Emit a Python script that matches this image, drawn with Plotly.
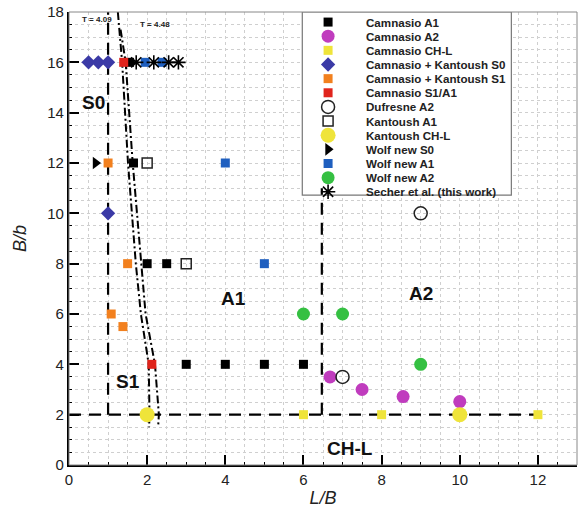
import plotly.graph_objects as go

# ---------------- data ----------------
camnasio_a1_x = [1.55, 1.65, 2.0, 2.5, 3.0, 4.0, 5.0, 6.0]
camnasio_a1_y = [16, 12, 8, 8, 4, 4, 4, 4]
camnasio_a2_x = [6.68, 7.5, 8.55, 10.0]
camnasio_a2_y = [3.5, 3.0, 2.72, 2.52]
camnasio_chl_x = [6.0, 8.0, 12.0]
camnasio_chl_y = [2, 2, 2]
ck_s0_x = [0.5, 0.75, 1.0, 1.0]
ck_s0_y = [16, 16, 16, 10]
ck_s1_x = [1.0, 1.5, 1.08, 1.38]
ck_s1_y = [12, 8, 6, 5.5]
camnasio_s1a1_x = [1.4, 2.12]
camnasio_s1a1_y = [16, 4]
dufresne_a2_x = [9.0, 7.0]
dufresne_a2_y = [10, 3.5]
kantoush_a1_x = [2.0, 3.0]
kantoush_a1_y = [12, 8]
kantoush_chl_x = [2.0, 10.0]
kantoush_chl_y = [2, 2]
wolf_s0_x = [0.68]
wolf_s0_y = [12]
wolf_a1_x = [1.95, 2.38, 4.0, 5.0]
wolf_a1_y = [16, 16, 12, 8]
wolf_a2_x = [6.0, 7.0, 9.0]
wolf_a2_y = [6, 6, 4]
secher_x = [1.72, 2.17, 2.55, 2.8]
secher_y = [16, 16, 16, 16]

# boundary lines
t409_x = [1.25, 1.36, 1.51, 1.71, 1.84, 2.04, 2.06, 2.05]
t409_y = [18, 16, 12, 8, 6, 4, 2, 1.5]
t448_x = [1.32, 1.45, 1.63, 1.84, 1.96, 2.2, 2.3, 2.28]
t448_y = [17.3, 16, 12, 8, 6, 4, 2, 1.5]
s0_line_x = [1.0, 1.0]
s0_line_y = [2, 18]
chl_line_x = [0.0, 12.2]
chl_line_y = [2, 2]
a2_line_x = [6.47, 6.47]
a2_line_y = [2, 11.0]

region_labels = ["S0", "A1", "A2", "S1", "CH-L"]
region_x = [0.62, 4.2, 9.0, 1.52, 7.2]
region_y = [14.4, 6.6, 6.8, 3.3, 0.65]

x_ticks = [0, 2, 4, 6, 8, 10, 12]
y_ticks = [0, 2, 4, 6, 8, 10, 12, 14, 16, 18]

# series: name, x, y, symbol, color, size
series = [
    ("Camnasio A1", camnasio_a1_x, camnasio_a1_y, "square", "#000000", 9),
    ("Camnasio A2", camnasio_a2_x, camnasio_a2_y, "circle", "#c03cbe", 13),
    ("Camnasio CH-L", camnasio_chl_x, camnasio_chl_y, "square", "#efe43a", 9),
    ("Camnasio + Kantoush S0", ck_s0_x, ck_s0_y, "diamond", "#3b3aa6", 11),
    ("Camnasio + Kantoush S1", ck_s1_x, ck_s1_y, "square", "#f2801e", 9),
    ("Camnasio S1/A1", camnasio_s1a1_x, camnasio_s1a1_y, "square", "#e0241c", 9),
    ("Dufresne A2", dufresne_a2_x, dufresne_a2_y, "circle-open", "#222222", 13),
    ("Kantoush A1", kantoush_a1_x, kantoush_a1_y, "square-open", "#222222", 10),
    ("Kantoush CH-L", kantoush_chl_x, kantoush_chl_y, "circle", "#efe43a", 15),
    ("Wolf new S0", wolf_s0_x, wolf_s0_y, "triangle-right", "#000000", 11),
    ("Wolf new A1", wolf_a1_x, wolf_a1_y, "square", "#1f5fbf", 9),
    ("Wolf new A2", wolf_a2_x, wolf_a2_y, "circle", "#35c042", 13),
    ("Secher et al. (this work)", secher_x, secher_y, "asterisk-open", "#000000", 12),
]

fig = go.Figure()

# boundary lines
for bx, by in ((s0_line_x, s0_line_y), (chl_line_x, chl_line_y), (a2_line_x, a2_line_y)):
    fig.add_trace(go.Scatter(x=bx, y=by, mode="lines",
                             line=dict(color="black", width=2.2, dash="12px,8px"),
                             showlegend=False, hoverinfo="skip"))
for bx, by in ((t409_x, t409_y), (t448_x, t448_y)):
    fig.add_trace(go.Scatter(x=bx, y=by, mode="lines",
                             line=dict(color="black", width=2, dash="8px,3px,2px,3px"),
                             showlegend=False, hoverinfo="skip"))

def marker_for(symbol, color, size):
    if symbol in ("circle-open", "square-open"):
        return dict(symbol=symbol, color=color, size=size, line=dict(width=1.5, color=color))
    if symbol == "asterisk-open":
        return dict(symbol=symbol, color=color, size=size, line=dict(width=1.6, color=color))
    return dict(symbol=symbol, color=color, size=size, line=dict(width=0))

for name, xs, ys, sym, col, sz in series:
    fig.add_trace(go.Scatter(x=xs, y=ys, mode="markers", name=name,
                             marker=marker_for(sym, col, sz), showlegend=False))

# ---- manual compact legend (built from the series list) ----
leg_x0, leg_x1, leg_y0, leg_y1 = 5.97, 11.32, 10.72, 18.0
row0_y = 17.6
row_step = 0.562
leg_marker_x = 6.63
leg_text_x = 7.55
for i, (name, xs, ys, sym, col, sz) in enumerate(series):
    yy = row0_y - i * row_step
    fig.add_trace(go.Scatter(x=[leg_marker_x], y=[yy], mode="markers",
                             marker=marker_for(sym, col, sz), showlegend=False,
                             hoverinfo="skip"))
    fig.add_annotation(x=leg_text_x, y=yy, text="<b>%s</b>" % name, showarrow=False,
                       xanchor="left", yanchor="middle",
                       font=dict(family="Liberation Sans, Arial", size=11.6, color="#222222"))

fig.add_shape(type="rect", x0=leg_x0, x1=leg_x1, y0=leg_y0, y1=leg_y1,
              xref="x", yref="y", fillcolor="white",
              line=dict(color="#777777", width=1.2), layer="between")

# plot frame top/right
fig.add_shape(type="rect", x0=0, x1=1, y0=0, y1=1, xref="paper", yref="paper",
              line=dict(color="#888888", width=1), layer="above")

# region labels
for t, xx, yy in zip(region_labels, region_x, region_y):
    fig.add_annotation(x=xx, y=yy, text="<b>%s</b>" % t, showarrow=False,
                       font=dict(family="Liberation Sans, Arial", size=19, color="#111111"))

# T labels
fig.add_annotation(x=0.72, y=17.72, text="<b>T = 4.09</b>", showarrow=False,
                   font=dict(family="Liberation Sans, Arial", size=8, color="#222222"))
fig.add_annotation(x=2.2, y=17.5, text="<b>T = 4.48</b>", showarrow=False,
                   font=dict(family="Liberation Sans, Arial", size=8, color="#222222"))

axis_common = dict(
    showline=True, linecolor="black", linewidth=2.2, mirror=False,
    ticks="inside", ticklen=10, tickwidth=2, tickcolor="black",
    showgrid=True, gridcolor="#cfcfcf", griddash="dot", gridwidth=1,
    zeroline=False,
    tickfont=dict(family="Liberation Sans, Arial", size=15, color="#222222"),
    minor=dict(dtick=0.5, ticks="inside", ticklen=3, tickwidth=1, tickcolor="black",
               showgrid=True, gridcolor="#cfcfcf", griddash="dot", gridwidth=1),
)

fig.update_xaxes(range=[0, 13], tickvals=x_ticks, ticktext=[str(v) for v in x_ticks],
                 title=dict(text="<i>L/B</i>", standoff=4,
                            font=dict(family="Liberation Sans, Arial", size=18, color="#222222")),
                 **axis_common)
fig.update_yaxes(range=[0, 18], tickvals=y_ticks, ticktext=[str(v) for v in y_ticks],
                 title=dict(text="<i>B/b</i>", standoff=16,
                            font=dict(family="Liberation Sans, Arial", size=18, color="#222222")),
                 **axis_common)

fig.update_layout(
    width=580, height=512,
    margin=dict(l=69, r=3, t=10, b=47),
    plot_bgcolor="white", paper_bgcolor="white",
    showlegend=False,
)

fig.write_html("out.html")
